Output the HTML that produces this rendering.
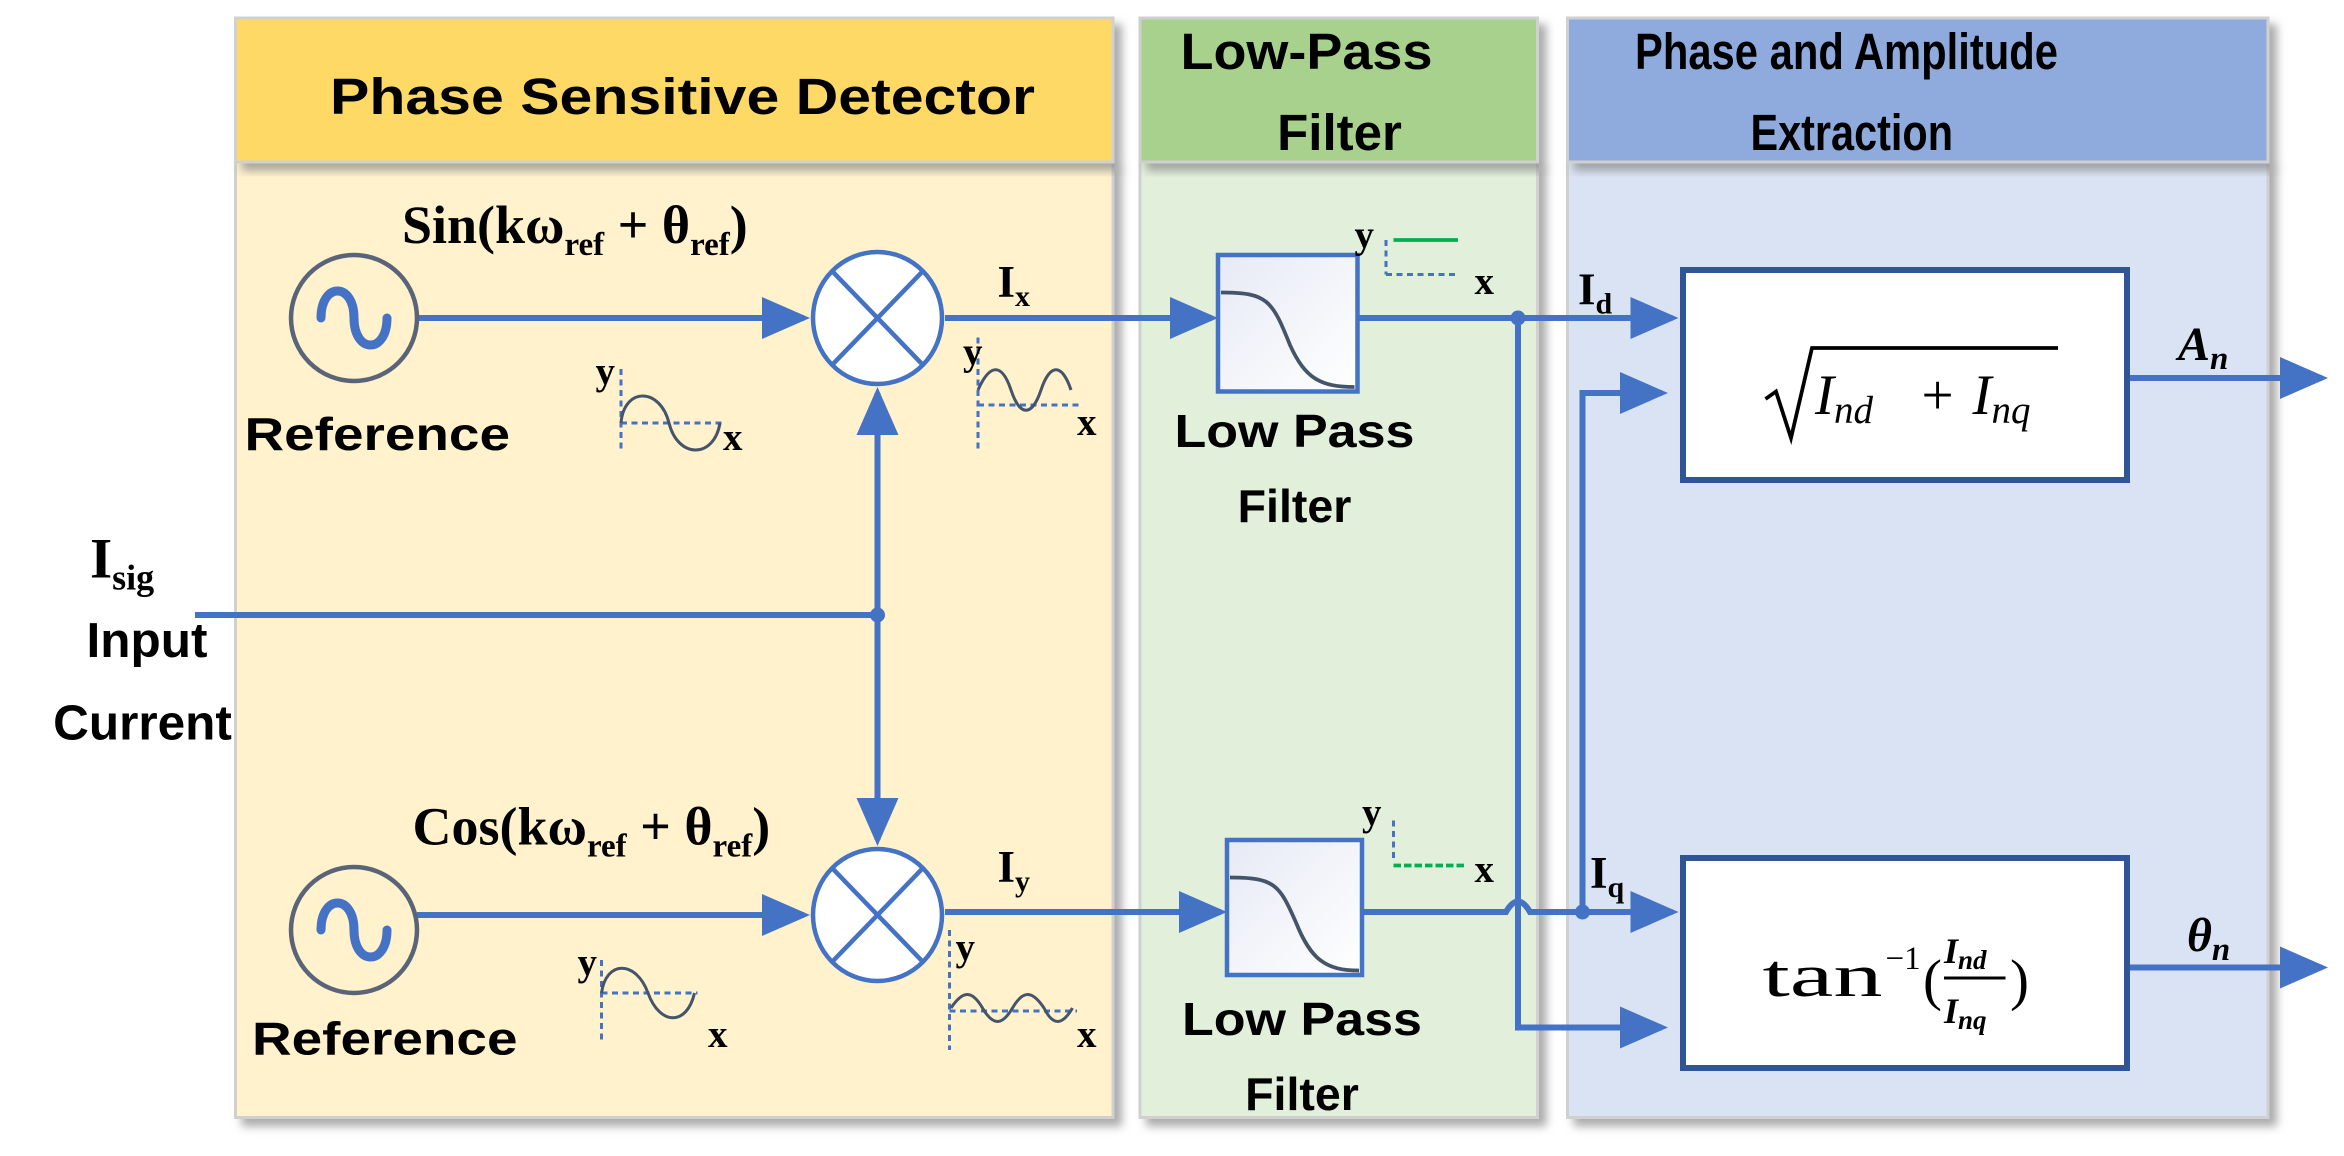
<!DOCTYPE html>
<html><head><meta charset="utf-8"><style>
html,body{margin:0;padding:0;background:#fff;}
svg{display:block;}
.h{font-family:"Liberation Sans",sans-serif;font-weight:bold;fill:#000;}
.s{font-family:"Liberation Serif",serif;font-weight:bold;fill:#000;}
.m{font-family:"Liberation Serif",serif;fill:#000;}
</style></head><body>
<svg width="2344" height="1156" viewBox="0 0 1562.67 770.67" xmlns="http://www.w3.org/2000/svg">
<defs>
<filter id="sh" x="-5%" y="-5%" width="115%" height="115%"><feDropShadow dx="5" dy="5" stdDeviation="3" flood-color="#888" flood-opacity="0.7"/></filter>
<marker id="ar" markerWidth="8" markerHeight="7" refX="7" refY="3.5" orient="auto" markerUnits="strokeWidth"><path d="M0,0 L8,3.5 L0,7 z" fill="#4472c4"/></marker>
<linearGradient id="lg" x1="0" y1="0" x2="1" y2="1"><stop offset="0" stop-color="#e6eaf5"/><stop offset="1" stop-color="#fff"/></linearGradient>
</defs>
<!-- panels -->
<rect x="157" y="108" width="585" height="637" fill="#fff2cc" stroke="#d0d0d0" stroke-width="2" filter="url(#sh)"/>
<rect x="157" y="12" width="585" height="96" fill="#ffd966" stroke="#d0d0d0" stroke-width="2" filter="url(#sh)"/>
<rect x="760" y="108" width="265" height="637" fill="#e2efda" stroke="#d0d0d0" stroke-width="2" filter="url(#sh)"/>
<rect x="760" y="12" width="265" height="96" fill="#a9d18e" stroke="#d0d0d0" stroke-width="2" filter="url(#sh)"/>
<rect x="1045" y="108" width="467" height="637" fill="#dae3f3" stroke="#d0d0d0" stroke-width="2" filter="url(#sh)"/>
<rect x="1045" y="12" width="467" height="96" fill="#8faadc" stroke="#d0d0d0" stroke-width="2" filter="url(#sh)"/>
<text class="h" x="220" y="76" font-size="34" textLength="470" lengthAdjust="spacingAndGlyphs">Phase Sensitive Detector</text>
<text class="h" x="787" y="46" font-size="34" textLength="168" lengthAdjust="spacingAndGlyphs">Low-Pass</text>
<text class="h" x="893" y="100" font-size="34" text-anchor="middle">Filter</text>
<text class="h" x="1090" y="46" font-size="34" textLength="282" lengthAdjust="spacingAndGlyphs">Phase and Amplitude</text>
<text class="h" x="1167" y="100" font-size="34" textLength="135" lengthAdjust="spacingAndGlyphs">Extraction</text>

<g stroke="#4472c4" stroke-width="4" fill="none">
<line x1="278" y1="212" x2="536" y2="212" marker-end="url(#ar)"/>
<line x1="630" y1="212" x2="808" y2="212" marker-end="url(#ar)"/>
<line x1="905" y1="212" x2="1115" y2="212" marker-end="url(#ar)"/>
<line x1="278" y1="610" x2="536" y2="610" marker-end="url(#ar)"/>
<line x1="630" y1="608" x2="814" y2="608" marker-end="url(#ar)"/>
<path d="M908,608 L1004,608 Q1012,594 1020,608 L1115,608" marker-end="url(#ar)"/>
<line x1="130" y1="410" x2="585" y2="410"/>
<line x1="585" y1="410" x2="585" y2="262" marker-end="url(#ar)"/>
<line x1="585" y1="410" x2="585" y2="560" marker-end="url(#ar)"/>
<path d="M1012,212 L1012,685 L1108,685" marker-end="url(#ar)"/>
<path d="M1055,608 L1055,262 L1108,262" marker-end="url(#ar)"/>
<line x1="1420" y1="252" x2="1548" y2="252" marker-end="url(#ar)"/>
<line x1="1420" y1="645" x2="1548" y2="645" marker-end="url(#ar)"/>
</g>
<circle cx="585" cy="410" r="5" fill="#4472c4"/>
<circle cx="1012" cy="212" r="5" fill="#4472c4"/>
<circle cx="1055" cy="608" r="5" fill="#4472c4"/>

<g fill="none" stroke="#5a6478" stroke-width="3">
<circle cx="236" cy="212" r="42"/>
<circle cx="236" cy="620" r="42"/>
</g>
<g fill="none" stroke="#4472c4" stroke-width="6" stroke-linecap="round">
<path d="M214,212 C214,188 236,188 236,212 C236,236 258,236 258,212"/>
<path d="M214,620 C214,596 236,596 236,620 C236,644 258,644 258,620"/>
</g>
<g fill="#fff" stroke="#4472c4" stroke-width="3">
<ellipse cx="585" cy="212" rx="43" ry="44"/>
<ellipse cx="585" cy="610" rx="43" ry="44"/>
<path d="M555,181 L615,243 M615,181 L555,243 M555,579 L615,641 M615,579 L555,641"/>
</g>
<rect x="812" y="170" width="93" height="91" fill="url(#lg)" stroke="#4472c4" stroke-width="3"/>
<path d="M814,195 C845,195 848,200 860,230 C870,252 880,258 903,258" fill="none" stroke="#44546a" stroke-width="2.5"/>
<rect x="818" y="560" width="90" height="90" fill="url(#lg)" stroke="#4472c4" stroke-width="3"/>
<path d="M820,585 C850,585 853,590 864,615 C874,640 884,647 906,647" fill="none" stroke="#44546a" stroke-width="2.5"/>

<rect x="1122" y="180" width="296" height="140" fill="#fff" stroke="#2f5597" stroke-width="4"/>
<rect x="1122" y="572" width="296" height="140" fill="#fff" stroke="#2f5597" stroke-width="4"/>

<g fill="none" stroke-width="2">
<g stroke="#4472c4" stroke-dasharray="4,3">
<line x1="414" y1="246" x2="414" y2="302"/><line x1="414" y1="282" x2="482" y2="282"/>
<line x1="652" y1="225" x2="652" y2="300"/><line x1="652" y1="270" x2="720" y2="270"/>
<line x1="401" y1="640" x2="401" y2="695"/><line x1="401" y1="662" x2="465" y2="662"/>
<line x1="633" y1="620" x2="633" y2="700"/><line x1="633" y1="674" x2="718" y2="674"/>
<line x1="924" y1="160" x2="924" y2="183"/><line x1="924" y1="183" x2="972" y2="183"/>
<line x1="929" y1="547" x2="929" y2="575"/>
</g>
<g stroke="#44546a">
<path d="M414,282 C416,258 440,258 446,282 C452,306 476,306 480,282"/>
<path d="M652,260 C660,242 668,242 674,260 C680,278 688,278 694,260 C700,242 708,242 714,260"/>
<path d="M401,662 C404,640 424,640 432,662 C440,684 458,684 463,662"/>
<path d="M634,672 C642,660 648,660 655,672 C662,684 668,684 675,672 C682,660 688,660 696,672 C702,684 708,684 715,672"/>
</g>
<line x1="929" y1="160" x2="972" y2="160" stroke="#00b050" stroke-width="2.5"/>
<line x1="929" y1="577" x2="977" y2="577" stroke="#00b050" stroke-width="2.5" stroke-dasharray="5,2"/>
</g>
<g class="s" font-size="26">
<text x="397" y="256" class="s">y</text><text x="482" y="300" class="s">x</text>
<text x="642" y="243" class="s">y</text><text x="718" y="290" class="s">x</text>
<text x="385" y="650" class="s">y</text><text x="472" y="698" class="s">x</text>
<text x="637" y="640" class="s">y</text><text x="718" y="698" class="s">x</text>
<text x="903" y="165" class="s">y</text><text x="983" y="196" class="s">x</text>
<text x="908" y="550" class="s">y</text><text x="983" y="588" class="s">x</text>
</g>

<text class="s" x="268" y="162" font-size="36">Sin(kω<tspan font-size="22" dy="8">ref</tspan><tspan dy="-8"> + θ</tspan><tspan font-size="22" dy="8">ref</tspan><tspan dy="-8">)</tspan></text>
<text class="s" x="275" y="563" font-size="36">Cos(kω<tspan font-size="22" dy="8">ref</tspan><tspan dy="-8"> + θ</tspan><tspan font-size="22" dy="8">ref</tspan><tspan dy="-8">)</tspan></text>
<text class="h" x="163" y="300" font-size="31" textLength="177" lengthAdjust="spacingAndGlyphs">Reference</text>
<text class="h" x="168" y="703" font-size="31" textLength="177" lengthAdjust="spacingAndGlyphs">Reference</text>
<text class="s" x="60" y="385" font-size="38">I<tspan font-size="24" dy="8">sig</tspan></text>
<text class="h" x="98" y="438" font-size="33" text-anchor="middle">Input</text>
<text class="h" x="95" y="493" font-size="33" text-anchor="middle">Current</text>
<text class="h" x="783" y="298" font-size="31" textLength="160" lengthAdjust="spacingAndGlyphs">Low Pass</text>
<text class="h" x="863" y="348" font-size="31" text-anchor="middle">Filter</text>
<text class="h" x="788" y="690" font-size="31" textLength="160" lengthAdjust="spacingAndGlyphs">Low Pass</text>
<text class="h" x="868" y="740" font-size="31" text-anchor="middle">Filter</text>
<text class="s" x="665" y="198" font-size="30">I<tspan font-size="20" dy="6">x</tspan></text>
<text class="s" x="665" y="588" font-size="30">I<tspan font-size="20" dy="6">y</tspan></text>
<text class="s" x="1052" y="203" font-size="30">I<tspan font-size="20" dy="6">d</tspan></text>
<text class="s" x="1060" y="592" font-size="30">I<tspan font-size="20" dy="6">q</tspan></text>
<text class="s" x="1452" y="240" font-size="32" font-style="italic">A<tspan font-size="22" dy="6">n</tspan></text>
<text class="s" x="1458" y="634" font-size="32" font-style="italic">θ<tspan font-size="22" dy="6">n</tspan></text>

<!-- sqrt formula -->
<path d="M1177,266 L1184,261 L1194,292 L1208,232 L1372,232" fill="none" stroke="#000" stroke-width="2.5"/>
<text class="m" x="1210" y="276" font-size="38" font-style="italic">I<tspan font-size="26" dy="6">nd</tspan></text>
<text class="m" x="1281" y="276" font-size="38">+</text>
<text class="m" x="1315" y="276" font-size="38" font-style="italic">I<tspan font-size="26" dy="6">nq</tspan></text>
<!-- tan formula -->
<text class="m" x="1175" y="664" font-size="40" textLength="80" lengthAdjust="spacingAndGlyphs">tan</text>
<text class="m" x="1257" y="646" font-size="22">−1</text>
<text class="m" x="1282" y="666" font-size="38">(</text>
<text class="m" x="1296" y="642" font-size="24" font-style="italic" font-weight="bold">I<tspan font-size="18" dy="4">nd</tspan></text>
<line x1="1296" y1="652" x2="1337" y2="652" stroke="#000" stroke-width="2"/>
<text class="m" x="1296" y="682" font-size="24" font-style="italic" font-weight="bold">I<tspan font-size="18" dy="4">nq</tspan></text>
<text class="m" x="1340" y="666" font-size="38">)</text>
</svg>
</body></html>
